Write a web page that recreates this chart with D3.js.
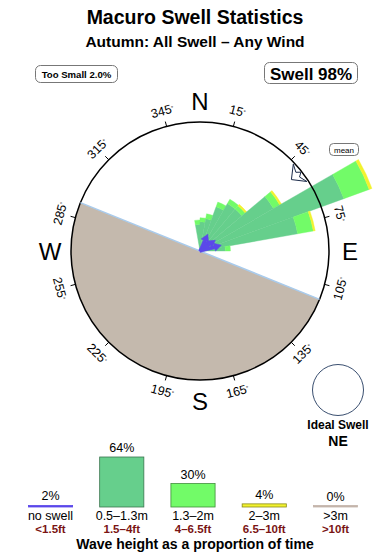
<!DOCTYPE html>
<html>
<head>
<meta charset="utf-8">
<script src="https://cdn.jsdelivr.net/npm/d3@7"></script>
<style>
  body { margin: 0; background: #fff; }
  text { font-family: "Liberation Sans", Arial, Helvetica, sans-serif; }
</style>
</head>
<body>
<div id="chart"></div>
<script>
// rose bins (direction swell comes from, 10 degree bins) and % of time per wave height
var dirs = [355, 5, 15, 25, 35, 45, 55, 65, 75, 85];
var small = [0.35, 0.35, 0.5, 0.7, 0.8, 0.7, 1.8, 12.6, 4.8, 0.4];     // 1.3-2m
var medium = [1.0, 1.2, 1.5, 3.1, 4.2, 4.2, 10.1, 32.9, 13.8, 0.9];    // 0.5-1.3m
var big = [0, 0, 0, 0, 0, 0.3, 0.5, 1.5, 0.6, 0];                      // 2-3m
var noSwell = [0, 0, 0, 0.48, 0, 0.25, 0.49, 0, 0.68, 0];             // <0.5m, drawn as arrows

var meanDir = 52;
var landFrom = 112, landTo = 292;
var tickDegs = [15, 45, 75, 105, 135, 165, 195, 225, 255, 285, 315, 345];
var compass = ["N", "E", "S", "W"];

// legend
var classes = ["no swell", "0.5–1.3m", "1.3–2m", "2–3m", ">3m"];
var feet = ["<1.5ft", "1.5–4ft", "4–6.5ft", "6.5–10ft", ">10ft"];
var share = [2, 64, 30, 4, 0];
var colors = ["#5b48ea", "#66cf8c", "#72fb68", "#f2f22e", "#c4b4aa"];

var svgWidth = 390, svgHeight = 560;
var cx = 200, cy = 251, R = 129;

var svg = d3.select("#chart").append("svg")
  .attr("width", svgWidth)
  .attr("height", svgHeight);

var rad = Math.PI / 180;
function polar(b, r) {
  return [cx + r * Math.sin(b * rad), cy - r * Math.cos(b * rad)];
}
// point at radius r along bearing b, pushed sideways by "side" px
function offset(b, r, side) {
  var p = polar(b, r);
  return [p[0] + side * Math.cos(b * rad), p[1] + side * Math.sin(b * rad)];
}

// titles
svg.append("text").attr("x", 195).attr("y", 24).attr("text-anchor", "middle")
  .style("font-size", "19.5px").style("font-weight", "bold").text("Macuro Swell Statistics");
svg.append("text").attr("x", 195).attr("y", 47).attr("text-anchor", "middle")
  .style("font-size", "15.5px").style("font-weight", "bold").text("Autumn: All Swell – Any Wind");

// boxes at top
svg.append("rect").attr("x", 35.5).attr("y", 65.5).attr("width", 82).attr("height", 17)
  .attr("rx", 5).attr("fill", "#fff").attr("stroke", "#777");
svg.append("text").attr("x", 76.5).attr("y", 77.5).attr("text-anchor", "middle")
  .style("font-size", "9.6px").style("font-weight", "bold").text("Too Small 2.0%");

svg.append("rect").attr("x", 264.5).attr("y", 62.5).attr("width", 93).attr("height", 21)
  .attr("rx", 5).attr("fill", "#fff").attr("stroke", "#777");
svg.append("text").attr("x", 311).attr("y", 79.5).attr("text-anchor", "middle")
  .style("font-size", "17px").style("font-weight", "bold").text("Swell 98%");

var g = svg.append("g").attr("transform", `translate(${cx}, ${cy})`);

// land
g.append("path")
  .attr("d", d3.arc()({innerRadius: 0, outerRadius: R, startAngle: landFrom * rad, endAngle: landTo * rad}))
  .attr("fill", "#c4b9ad");
var p1 = polar(landTo, R), p2 = polar(landFrom, R);
svg.append("line")
  .attr("x1", p1[0]).attr("y1", p1[1]).attr("x2", p2[0]).attr("y2", p2[1])
  .attr("stroke", "#a9cbec").attr("stroke-width", 1.5);

// rose
var rScale = d3.scaleSqrt().domain([0, 47]).range([0, 183]);
var arc = d3.arc();

var bands = [];
dirs.forEach(function(d, i) {
  var c0 = medium[i], c1 = c0 + small[i], c2 = c1 + big[i];
  bands.push({dir: d, from: 0, to: c0, color: colors[1]});
  bands.push({dir: d, from: c0, to: c1, color: colors[2]});
  if (big[i] > 0) bands.push({dir: d, from: c1, to: c2, color: colors[3]});
});

g.selectAll("path.band")
  .data(bands)
  .enter()
  .append("path")
  .attr("class", "band")
  .attr("d", function(b) {
    return arc({innerRadius: rScale(b.from), outerRadius: rScale(b.to),
      startAngle: (b.dir - 5) * rad, endAngle: (b.dir + 5) * rad});
  })
  .attr("fill", function(b) { return b.color; })
  .attr("stroke", function(b) { return b.color; })
  .attr("stroke-width", 0.4);

// no swell arrows
var blue = dirs.map((d, i) => ({dir: d, v: noSwell[i]})).filter(b => b.v > 0);
svg.selectAll("path.noswell")
  .data(blue)
  .enter()
  .append("path")
  .attr("class", "noswell")
  .attr("d", function(b) {
    var r = rScale(b.v), h = Math.min(7, r * 0.4);
    var pts = [offset(b.dir, 0, -1.3), offset(b.dir, r - h, -1.6), offset(b.dir, r - h, -4),
      offset(b.dir, r, 0), offset(b.dir, r - h, 4), offset(b.dir, r - h, 1.6), offset(b.dir, 0, 1.3)];
    return d3.line()(pts) + "Z";
  })
  .attr("fill", colors[0])
  .attr("stroke", colors[0])
  .attr("stroke-width", 0.6);

// outer circle
g.append("circle").attr("r", R).attr("fill", "none").attr("stroke", "#000").attr("stroke-width", 1.5);

// degree ticks and labels
tickDegs.forEach(function(b) {
  var a = polar(b, R), c = polar(b, R + 5);
  svg.append("line").attr("x1", a[0]).attr("y1", a[1]).attr("x2", c[0]).attr("y2", c[1])
    .attr("stroke", "#000").attr("stroke-width", 1);
  var p = polar(b, 145);
  var rot = b <= 90 ? b : (b >= 270 ? b - 360 : b - 180);
  var t = svg.append("text")
    .attr("transform", `translate(${p[0]}, ${p[1]}) rotate(${rot})`)
    .attr("text-anchor", "middle")
    .attr("dy", "0.35em")
    .style("font-size", "12.5px");
  t.append("tspan").text(b);
  t.append("tspan").attr("dy", "-0.45em").style("font-size", "6px").text("°");
});

// compass letters
compass.forEach(function(l, i) {
  var p = polar(i * 90, 150);
  svg.append("text").attr("x", p[0]).attr("y", p[1]).attr("dy", "0.36em")
    .attr("text-anchor", "middle").style("font-size", "24px").text(l);
});

// mean arrow
var arrow = [offset(meanDir, 116, 0), offset(meanDir, 127, -11), offset(meanDir, 124, -3),
  offset(meanDir, 128, 0), offset(meanDir, 124, 3), offset(meanDir, 127, 11)];
svg.append("path")
  .attr("d", d3.line()(arrow) + "Z")
  .attr("fill", "#fff").attr("stroke", "#1c2b4a").attr("stroke-width", 1);

svg.append("rect").attr("x", 329.5).attr("y", 143.5).attr("width", 29).attr("height", 12)
  .attr("rx", 4).attr("fill", "#fff").attr("stroke", "#777");
svg.append("text").attr("x", 344).attr("y", 152.5).attr("text-anchor", "middle")
  .style("font-size", "8px").text("mean");

// ideal swell
svg.append("circle").attr("cx", 338).attr("cy", 390).attr("r", 25.5)
  .attr("fill", "#fff").attr("stroke", "#3a4f70").attr("stroke-width", 1);
svg.append("text").attr("x", 338).attr("y", 429).attr("text-anchor", "middle")
  .style("font-size", "12px").style("font-weight", "bold").text("Ideal Swell");
svg.append("text").attr("x", 338).attr("y", 446).attr("text-anchor", "middle")
  .style("font-size", "14px").style("font-weight", "bold").text("NE");

// legend bars
var base = 507;
var xBand = d3.scaleBand().domain(classes).range([14.9, 371.1]).paddingInner(0.38).paddingOuter(0.19);
var hScale = d3.scaleLinear().domain([0, 64]).range([0, 50]);

var legend = svg.append("g");
legend.selectAll("rect")
  .data(classes)
  .enter()
  .append("rect")
  .attr("x", d => xBand(d))
  .attr("width", xBand.bandwidth())
  .attr("y", (d, i) => base - Math.max(hScale(share[i]), 1.5))
  .attr("height", (d, i) => Math.max(hScale(share[i]), 1.5))
  .attr("fill", (d, i) => colors[i])
  .attr("stroke", (d, i) => i == 0 || i == 4 ? colors[i] : d3.color(colors[i]).darker(1.6))
  .attr("stroke-width", 0.8);

legend.selectAll("text.pct")
  .data(classes)
  .enter()
  .append("text")
  .attr("class", "pct")
  .attr("x", d => xBand(d) + xBand.bandwidth() / 2)
  .attr("y", (d, i) => base - Math.max(hScale(share[i]), 1.5) - 5)
  .attr("text-anchor", "middle")
  .style("font-size", "12.5px")
  .text((d, i) => share[i] + "%");

legend.selectAll("text.cls")
  .data(classes)
  .enter()
  .append("text")
  .attr("class", "cls")
  .attr("x", d => xBand(d) + xBand.bandwidth() / 2)
  .attr("y", 520)
  .attr("text-anchor", "middle")
  .style("font-size", "12.5px")
  .text(d => d);

legend.selectAll("text.ft")
  .data(feet)
  .enter()
  .append("text")
  .attr("class", "ft")
  .attr("x", (d, i) => xBand(classes[i]) + xBand.bandwidth() / 2)
  .attr("y", 533)
  .attr("text-anchor", "middle")
  .attr("fill", "#7a1414")
  .style("font-size", "11.5px")
  .style("font-weight", "bold")
  .text(d => d);

svg.append("text").attr("x", 195).attr("y", 549).attr("text-anchor", "middle")
  .style("font-size", "14px").style("font-weight", "bold").text("Wave height as a proportion of time");
</script>
</body>
</html>
